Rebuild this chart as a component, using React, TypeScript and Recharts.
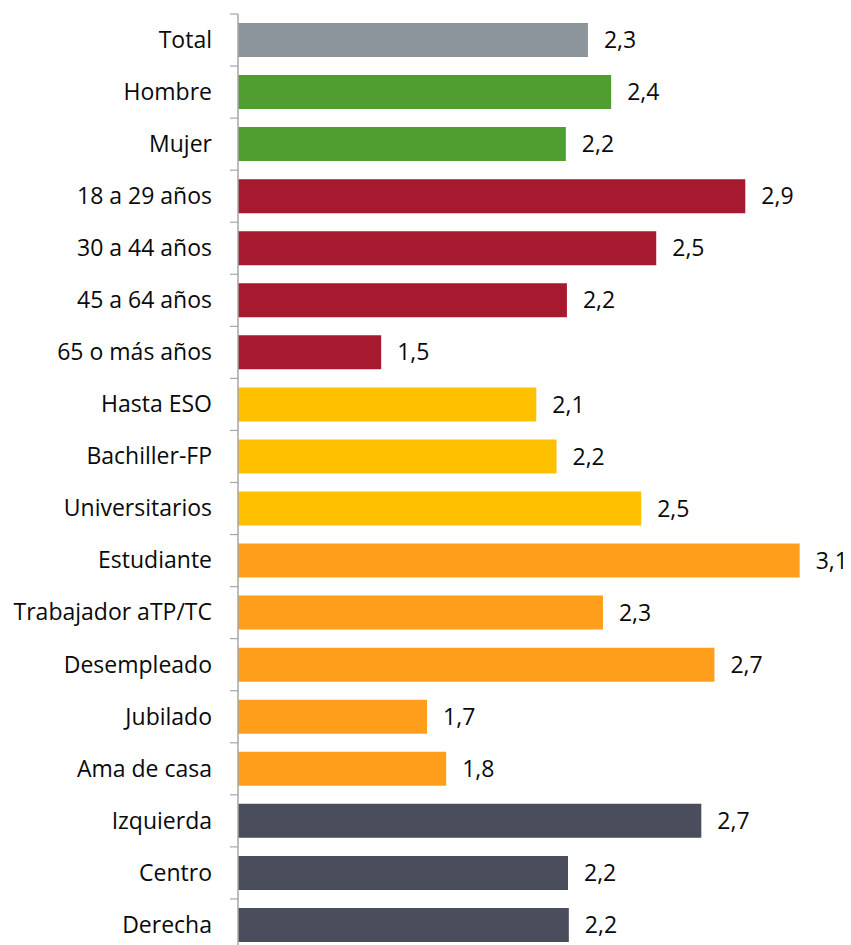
import React from "react";
import { BarChart, Bar, XAxis, YAxis, Cell, LabelList } from "recharts";

const categories = [
  "Total",
  "Hombre",
  "Mujer",
  "18 a 29 años",
  "30 a 44 años",
  "45 a 64 años",
  "65 o más años",
  "Hasta ESO",
  "Bachiller-FP",
  "Universitarios",
  "Estudiante",
  "Trabajador aTP/TC",
  "Desempleado",
  "Jubilado",
  "Ama de casa",
  "Izquierda",
  "Centro",
  "Derecha",
];

const values = [
  2.281, 2.366, 2.2, 2.857, 2.531, 2.204, 1.524, 2.092, 2.166, 2.476, 3.056,
  2.336, 2.744, 1.692, 1.762, 2.696, 2.208, 2.211,
];

const groups = [
  "total",
  "sexo",
  "sexo",
  "edad",
  "edad",
  "edad",
  "edad",
  "estudios",
  "estudios",
  "estudios",
  "ocupacion",
  "ocupacion",
  "ocupacion",
  "ocupacion",
  "ocupacion",
  "ideologia",
  "ideologia",
  "ideologia",
];

const groupColors: Record<string, string> = {
  total: "#8C959B",
  sexo: "#509E2F",
  edad: "#A6192E",
  estudios: "#FFC000",
  ocupacion: "#FF9E1B",
  ideologia: "#4A4D5C",
};

const xDomain: [number, number] = [1, 3.2];

const data = categories.map((name, i) => ({
  name,
  value: values[i],
  group: groups[i],
}));

const CHART_W = 843;
const CHART_H = 950;
const MARGIN = { top: 6, right: 12, bottom: 7, left: 0 };
const FONT = "'Open Sans', 'DejaVu Sans', sans-serif";
const TICK_SIZE = 8;
const TICK_MARGIN = 18;
const AXIS_COLOR = "#A6A6A6";

const plotH = CHART_H - MARGIN.top - MARGIN.bottom;
const band = plotH / categories.length;

const fmt = (v: number) => (Math.round(v * 10) / 10).toFixed(1).replace(".", ",");

const CategoryTick = (props: any) => {
  const { x, y, payload, index } = props;
  const lineX1 = x + TICK_MARGIN;
  const lineX2 = x + TICK_MARGIN + TICK_SIZE;
  return (
    <g>
      <line x1={lineX1} x2={lineX2} y1={y - band / 2} y2={y - band / 2} stroke={AXIS_COLOR} strokeWidth={1.2} />
      {index === categories.length - 1 && (
        <line x1={lineX1} x2={lineX2} y1={y + band / 2} y2={y + band / 2} stroke={AXIS_COLOR} strokeWidth={1.2} />
      )}
      <text
        x={x}
        y={y}
        dy="0.34em"
        textAnchor="end"
        fill="#0A0A0A"
        fontSize={23}
        fontFamily={FONT}
      >
        {payload.value}
      </text>
    </g>
  );
};

export default function App() {
  return (
    <div style={{ width: CHART_W, height: CHART_H, background: "#fff" }}>
      <BarChart
        width={CHART_W}
        height={CHART_H}
        data={data}
        layout="vertical"
        margin={MARGIN}
        barCategoryGap={0}
      >
        <XAxis type="number" domain={xDomain} hide allowDataOverflow />
        <YAxis
          type="category"
          dataKey="name"
          width={230}
          tickLine={false}
          tickSize={TICK_SIZE}
          tickMargin={TICK_MARGIN}
          axisLine={{ stroke: AXIS_COLOR, strokeWidth: 1.5 }}
          tick={<CategoryTick />}
          interval={0}
        />
        <Bar dataKey="value" barSize={34} isAnimationActive={false}>
          {data.map((d, i) => (
            <Cell key={i} fill={groupColors[d.group]} />
          ))}
          <LabelList
            dataKey="value"
            position="right"
            offset={16}
            formatter={(v: any) => fmt(Number(v))}
            style={{ fontSize: 23, fontFamily: FONT, fill: "#0A0A0A" }}
          />
        </Bar>
      </BarChart>
    </div>
  );
}
